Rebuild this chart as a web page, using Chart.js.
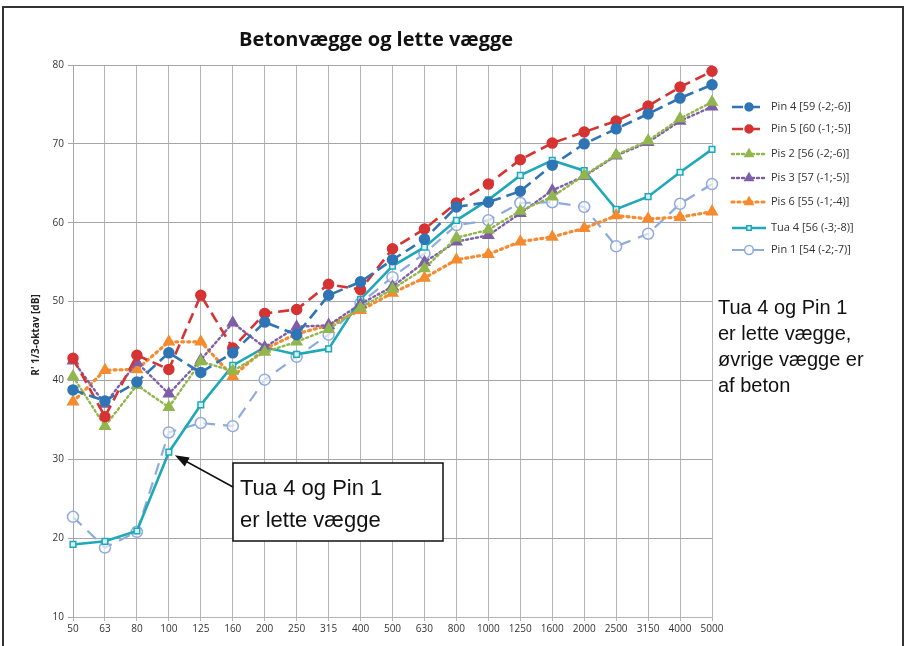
<!DOCTYPE html>
<html>
<head>
<meta charset="utf-8">
<title>Betonvægge og lette vægge</title>
<script src="https://cdn.jsdelivr.net/npm/chart.js@4/dist/chart.umd.min.js"></script>
<style>
  html, body { margin: 0; padding: 0; background: #fff; }
  #wrap { position: relative; width: 905px; height: 646px; }
</style>
</head>
<body>
<div id="wrap"><canvas id="chart" width="905" height="646"></canvas></div>
<script>
/* ─────────────────────────────────────────
   Betonvægge og lette vægge — R' 1/3-oktav
   ───────────────────────────────────────── */

// ─── Data ───────────────────────────────
const freqs = ["50","63","80","100","125","160","200","250","315","400","500","630","800","1000","1250","1600","2000","2500","3150","4000","5000"];
const yTicks = [10, 20, 30, 40, 50, 60, 70, 80];

const pin4 = [38.8, 37.4, 39.8, 43.5, 41.0, 43.5, 47.4, 45.8, 50.8, 52.5, 55.3, 57.9, 62.0, 62.6, 64.0, 67.3, 70.0, 71.9, 73.8, 75.8, 77.5];
const pin5 = [42.8, 35.4, 43.2, 41.4, 50.8, 44.1, 48.5, 49.0, 52.2, 51.5, 56.7, 59.2, 62.5, 64.9, 68.0, 70.1, 71.5, 72.9, 74.8, 77.2, 79.2];
const pis2 = [40.5, 34.2, 39.4, 36.6, 42.4, 41.2, 43.6, 44.9, 46.5, 49.2, 51.6, 54.2, 58.1, 59.1, 61.5, 63.3, 66.0, 68.6, 70.4, 73.2, 75.3];
const pis3 = [42.5, 37.0, 42.3, 38.3, 42.6, 47.3, 44.2, 46.8, 47.0, 49.7, 51.9, 55.0, 57.6, 58.4, 61.2, 64.1, 65.9, 68.5, 70.2, 72.9, 74.7];
const pis6 = [37.3, 41.3, 41.4, 44.9, 44.9, 40.5, 44.0, 45.9, 47.0, 48.9, 51.1, 53.0, 55.3, 56.0, 57.6, 58.2, 59.3, 60.9, 60.5, 60.7, 61.4];
const tua4 = [19.2, 19.6, 20.9, 30.9, 36.9, 41.9, 44.2, 43.3, 44.0, 50.3, 54.5, 56.9, 60.3, 62.9, 66.0, 67.9, 66.6, 61.7, 63.3, 66.4, 69.3];
const pin1 = [22.7, 18.8, 20.8, 33.4, 34.6, 34.2, 40.1, 43.0, 45.8, 49.8, 53.1, 56.1, 59.7, 60.3, 62.5, 62.6, 62.0, 57.0, 58.6, 62.4, 64.9];

const seriesNames = ["Pin 4 [59 (-2;-6)]", "Pin 5 [60 (-1;-5)]", "Pis 2 [56 (-2;-6)]", "Pis 3 [57 (-1;-5)]", "Pis 6 [55 (-1;-4)]", "Tua 4 [56 (-3;-8)]", "Pin 1 [54 (-2;-7)]"];

const TITLE = "Betonvægge og lette vægge";
const Y_TITLE = "R' 1/3-oktav [dB]";
const NOTE_BOX = ["Tua 4 og Pin 1", "er lette vægge"];
const NOTE_SIDE = ["Tua 4 og Pin 1", "er lette vægge,", "øvrige vægge er", "af beton"];

// ─── Styles ─────────────────────────────
const styles = [
  { color: "#2f74b5", dash: [11, 6], width: 2.6, point: "circle",   radius: 5,   fill: "#2f74b5" },
  { color: "#d63333", dash: [11, 6], width: 2.6, point: "circle",   radius: 5,   fill: "#d63333" },
  { color: "#92b64e", dash: [2, 3],  width: 2.4, point: "triangle", radius: 6,   fill: "#92b64e" },
  { color: "#7d5fa8", dash: [2, 3],  width: 2.4, point: "triangle", radius: 6,   fill: "#7d5fa8" },
  { color: "#f58a2e", dash: [2, 4],  width: 3.2, point: "triangle", radius: 6,   fill: "#f58a2e" },
  { color: "#1ea8b8", dash: [],      width: 2.6, point: "rect",     radius: 4,   fill: "#d8f2f5" },
  { color: "#8faadc", dash: [12, 8], width: 2.2, point: "circle",   radius: 5.5, fill: "rgba(255,255,255,0.6)" },
];
const seriesData = [pin4, pin5, pis2, pis3, pis6, tua4, pin1];

const datasets = seriesData.map((d, i) => ({
  label: seriesNames[i],
  data: d,
  borderColor: styles[i].color,
  borderWidth: styles[i].width,
  borderDash: styles[i].dash,
  borderCapStyle: styles[i].dash.length && styles[i].dash[0] <= 2 ? "round" : "butt",
  pointStyle: styles[i].point,
  pointRadius: styles[i].radius,
  pointBackgroundColor: styles[i].fill,
  pointBorderColor: styles[i].color,
  pointBorderWidth: 1.5,
  tension: 0,
  fill: false,
  order: i,
}));

// ─── Decorations plugin ─────────────────
const decor = {
  id: "decor",
  afterDraw(chart) {
    const c = chart.ctx;
    c.save();

    // frame
    c.strokeStyle = "#333";
    c.lineWidth = 2;
    c.strokeRect(3, 7, 900, 645);

    // title
    c.fillStyle = "#111";
    c.font = "bold 20px 'Open Sans', sans-serif";
    c.textAlign = "center";
    c.textBaseline = "middle";
    c.fillText(TITLE, 376, 40);

    // y axis title
    c.save();
    c.translate(36, 335);
    c.rotate(-Math.PI / 2);
    c.font = "bold 10px 'Open Sans', sans-serif";
    c.fillStyle = "#222";
    c.fillText(Y_TITLE, 0, 0);
    c.restore();

    // legend
    const lx0 = 732, lx1 = 766, tx = 771;
    const ly = [107, 129, 154, 178, 202, 228, 250];
    c.textAlign = "left";
    c.font = "11px 'Open Sans', sans-serif";
    chart.data.datasets.forEach((ds, i) => {
      const y = ly[i];
      c.strokeStyle = ds.borderColor;
      c.lineWidth = ds.borderWidth;
      c.setLineDash(ds.borderDash);
      c.lineCap = ds.borderCapStyle;
      c.beginPath(); c.moveTo(lx0, y); c.lineTo(lx1, y); c.stroke();
      c.setLineDash([]);
      c.fillStyle = ds.pointBackgroundColor;
      c.strokeStyle = ds.pointBorderColor;
      c.lineWidth = 1.5;
      Chart.helpers.drawPoint(c, {
        pointStyle: ds.pointStyle, radius: ds.pointRadius * 0.8, borderWidth: 1.5, rotation: 0,
      }, (lx0 + lx1) / 2, y);
      c.fillStyle = "#333";
      c.fillText(ds.label, tx, y);
    });

    // side note
    c.fillStyle = "#111";
    c.font = "20px 'Liberation Sans', Arial, sans-serif";
    NOTE_SIDE.forEach((t, i) => c.fillText(t, 718, 308 + i * 26));

    // annotation box + arrow pointing at Tua 4 @ 100 Hz
    const xs = chart.scales.x, ys = chart.scales.y;
    const px = xs.getPixelForValue(3), py = ys.getPixelForValue(tua4[3]);
    c.fillStyle = "#fff";
    c.fillRect(233, 463, 210, 78);
    c.strokeStyle = "#111";
    c.lineWidth = 1.5;
    c.strokeRect(233, 463, 210, 78);
    c.fillStyle = "#111";
    c.font = "22px 'Liberation Sans', Arial, sans-serif";
    NOTE_BOX.forEach((t, i) => c.fillText(t, 240, 489 + i * 32));

    const ax = 233, ay = 487, bx = px + 6, by = py + 3;
    const ang = Math.atan2(by - ay, bx - ax);
    c.beginPath(); c.moveTo(ax, ay); c.lineTo(bx - 10 * Math.cos(ang), by - 10 * Math.sin(ang)); c.stroke();
    c.beginPath();
    c.moveTo(bx, by);
    c.lineTo(bx - 15 * Math.cos(ang - 0.35), by - 15 * Math.sin(ang - 0.35));
    c.lineTo(bx - 15 * Math.cos(ang + 0.35), by - 15 * Math.sin(ang + 0.35));
    c.closePath(); c.fill();

    c.restore();
  },
};

// ─── Chart ──────────────────────────────
new Chart(document.getElementById("chart"), {
  type: "line",
  data: { labels: freqs, datasets },
  options: {
    responsive: false,
    animation: false,
    layout: { padding: { left: 0, top: 65, right: 193, bottom: 0 } },
    plugins: { legend: { display: false }, tooltip: { enabled: false } },
    scales: {
      x: {
        offset: false,
        grid: { color: "#b4b4bc", lineWidth: 1, drawTicks: true, tickLength: 4, offset: false },
        border: { color: "#b4b4bc" },
        ticks: { color: "#333", font: { size: 10, family: "'Open Sans', sans-serif" }, maxRotation: 0, autoSkip: false, padding: 2 },
        afterFit: s => { s.height = 29; },
      },
      y: {
        min: 10, max: 80,
        afterBuildTicks: s => { s.ticks = yTicks.map(v => ({ value: v })); },
        grid: { color: "#a8a4a8", lineWidth: 1, tickLength: 5 },
        border: { color: "#a8a4a8" },
        ticks: { color: "#333", font: { size: 10, family: "'Open Sans', sans-serif" }, padding: 4 },
        afterFit: s => { s.width = 73; },
      },
    },
  },
  plugins: [decor],
});
</script>
</body>
</html>
